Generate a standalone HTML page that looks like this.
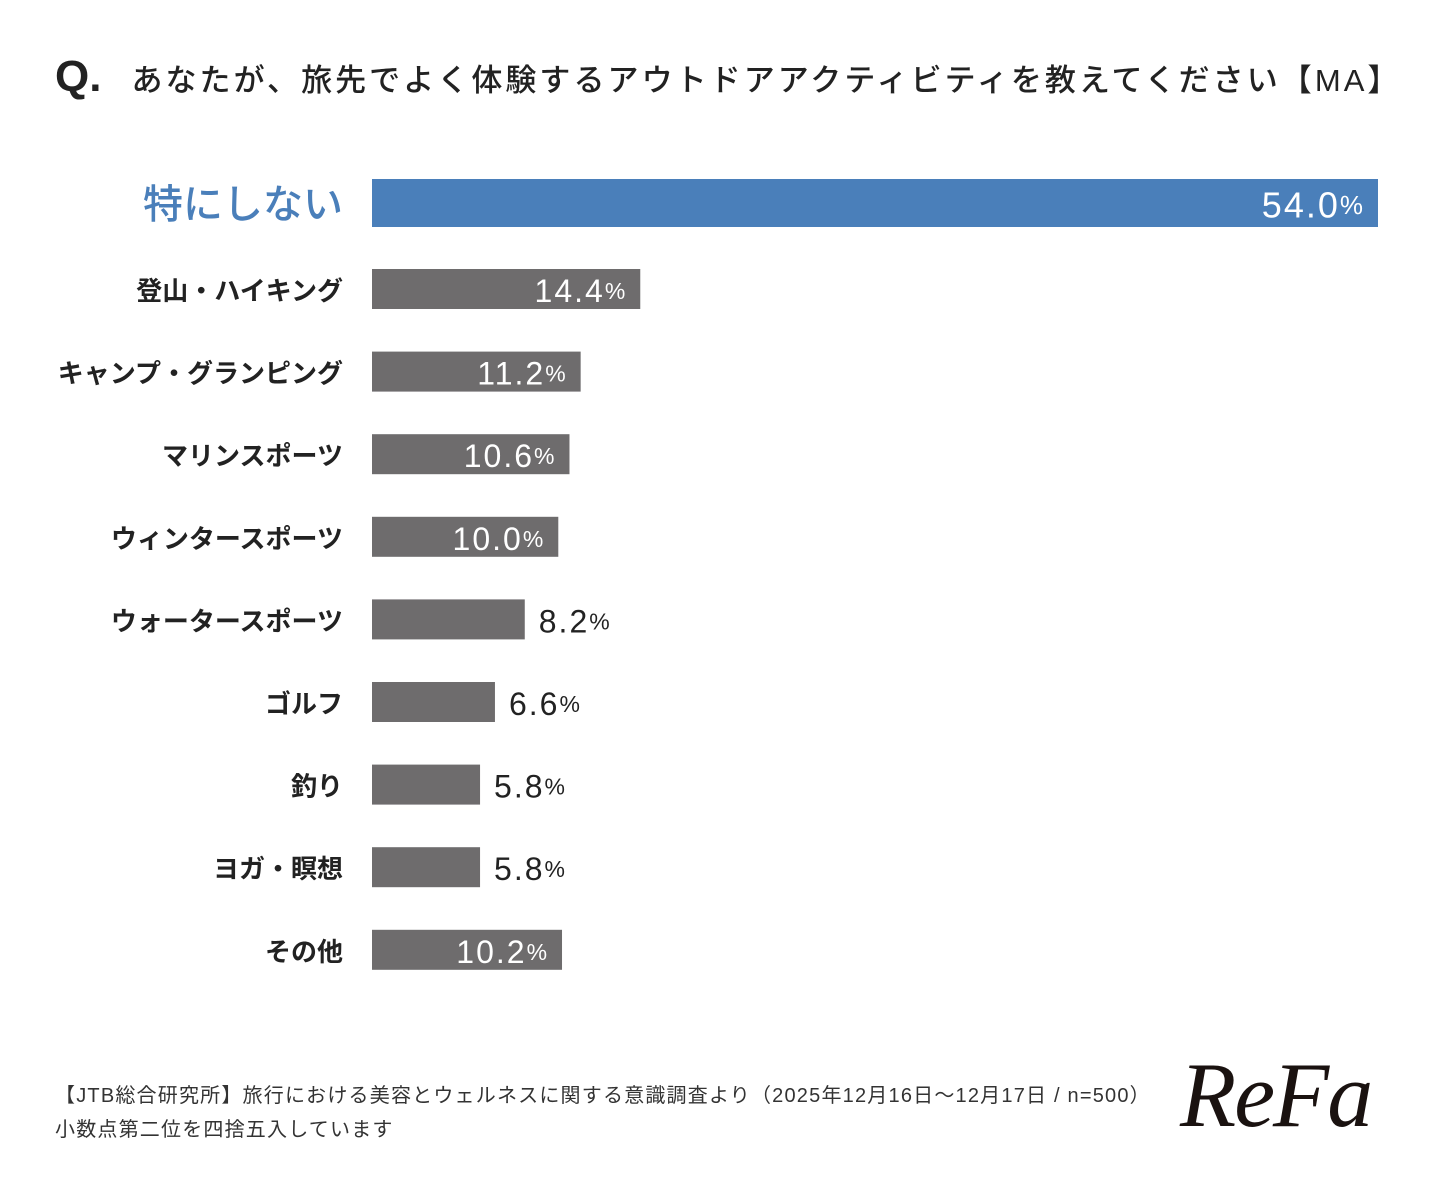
<!DOCTYPE html>
<html><head><meta charset="utf-8">
<style>
body{margin:0;background:#fff;}
#wrap{position:relative;width:1433px;height:1185px;background:#fff;font-family:"Liberation Sans","Noto Sans CJK JP",sans-serif;color:#222;overflow:hidden;}
.t{position:absolute;white-space:nowrap;}
</style></head><body>
<div id="wrap">
  <div class="t" style="left:55px;top:52px;font-size:31px;font-weight:500;letter-spacing:3.05px;"><span style="font-size:44px;font-weight:bold;letter-spacing:0;margin-right:30px;">Q.</span>あなたが、旅先でよく体験するアウトドアアクティビティを教えてください【MA】</div>
  <svg id="svg" width="1433" height="1185" style="position:absolute;left:0;top:0"></svg>
  <div class="t" style="left:55px;top:1079px;font-size:20px;letter-spacing:1.2px;color:#333;">【JTB総合研究所】旅行における美容とウェルネスに関する意識調査より（2025年12月16日〜12月17日 / n=500）</div>
  <div class="t" style="left:55px;top:1113px;font-size:20px;letter-spacing:1.2px;color:#333;">小数点第二位を四捨五入しています</div>
  <div class="t" style="left:1180px;top:1042px;font-family:'Liberation Serif',serif;font-style:italic;font-size:92px;color:#1a1210;letter-spacing:-2px;">ReFa</div>
</div>
<script>
const categories=["特にしない","登山・ハイキング","キャンプ・グランピング","マリンスポーツ","ウィンタースポーツ","ウォータースポーツ","ゴルフ","釣り","ヨガ・瞑想","その他"];
const values=[54.0,14.4,11.2,10.6,10.0,8.2,6.6,5.8,5.8,10.2];
const svg=document.getElementById('svg');
const NS='http://www.w3.org/2000/svg';
const x0=372,pxPer=1006/54;
function xs(v){return x0+v*pxPer;}
function yc(i){return i===0?203:289+(i-1)*82.6;}
categories.forEach((c,i)=>{
  const h=i===0?48:40;const y=yc(i)-h/2;const w=xs(values[i])-x0;
  const r=document.createElementNS(NS,'rect');
  r.setAttribute('x',x0);r.setAttribute('y',y);r.setAttribute('width',w);r.setAttribute('height',h);
  r.setAttribute('fill',i===0?'#4a7fba':'#6e6c6d');
  
  
  svg.appendChild(r);
  const l=document.createElementNS(NS,'text');
  l.setAttribute('x',343);l.setAttribute('y',yc(i)+2);l.setAttribute('text-anchor','end');l.setAttribute('dominant-baseline','central');
  l.setAttribute('font-size',i===0?40:26);l.setAttribute('font-weight',i===0?'500':'600');
  l.setAttribute('fill',i===0?'#4a7fba':'#222');
  l.setAttribute('font-family','"Liberation Sans","Noto Sans CJK JP",sans-serif');
  l.textContent=c;
  
  
  svg.appendChild(l);
  const inside=values[i]>=10;
  const t=document.createElementNS(NS,'text');
  t.setAttribute('dominant-baseline','central');
  t.setAttribute('y',yc(i)+2);
  t.setAttribute('font-size',i===0?36:32);
  t.setAttribute('letter-spacing','2');
  t.setAttribute('font-family','"Liberation Sans",sans-serif');
  if(inside){t.setAttribute('x',xs(values[i])-13);t.setAttribute('text-anchor','end');t.setAttribute('fill','#fff');}
  else{t.setAttribute('x',xs(values[i])+14);t.setAttribute('text-anchor','start');t.setAttribute('fill','#222');}
  t.innerHTML=values[i].toFixed(1)+'<tspan font-size="'+(i===0?26:23)+'">%</tspan>';
  
  
  svg.appendChild(t);
});
</script>
</body></html>
